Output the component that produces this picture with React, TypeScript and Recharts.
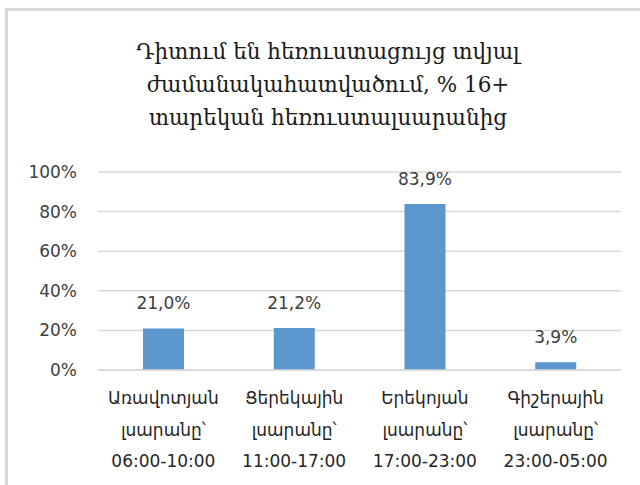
import { BarChart, Bar, XAxis, YAxis, CartesianGrid, LabelList } from "recharts";

const categories = [
  ["Առավոտյան", "լսարանը՝", "06:00-10:00"],
  ["Ցերեկային", "լսարանը՝", "11:00-17:00"],
  ["Երեկոյան", "լսարանը՝", "17:00-23:00"],
  ["Գիշերային", "լսարանը՝", "23:00-05:00"],
];
const values = [21.0, 21.2, 83.9, 3.9];
const yTicks = [0, 20, 40, 60, 80, 100];
const titleLines = [
  "Դիտում են հեռուստացույց տվյալ",
  "ժամանակահատվածում, % 16+",
  "տարեկան հեռուստալսարանից",
];

const data = categories.map((c, i) => ({ name: c.join("|"), value: values[i] }));

const fmt = (v: number) => `${v.toFixed(1).replace(".", ",")}%`;

function CategoryTick(props: any) {
  const { x, y, payload } = props;
  const lines = String(payload.value).split("|");
  return (
    <text
      x={x}
      y={y}
      textAnchor="middle"
      fontFamily="DejaVu Sans"
      fontSize={17}
      fill="#262626"
    >
      {lines.map((l, i) => (
        <tspan key={i} x={x} y={y + 26 + i * 31.5}>
          {l}
        </tspan>
      ))}
    </text>
  );
}

export default function App() {
  return (
    <div
      style={{
        position: "absolute",
        left: 0,
        top: 0,
        width: 640,
        height: 485,
        background: "#fff",
        overflow: "hidden",
      }}
    >
      <div
        style={{
          position: "absolute",
          left: 5,
          top: 8,
          width: 700,
          height: 600,
          borderLeft: "3px solid #d9d9d9",
          borderTop: "3px solid #d9d9d9",
        }}
      />
      <div
        style={{
          position: "absolute",
          left: 0,
          top: 35,
          width: 656,
          textAlign: "center",
          fontFamily: "DejaVu Serif",
          fontSize: 21.5,
          lineHeight: "33px",
          color: "#1a1a1a",
        }}
      >
        {titleLines.map((t, i) => (
          <div key={i}>{t}</div>
        ))}
      </div>
      <div style={{ position: "absolute", left: 0, top: 0 }}>
        <BarChart
          width={640}
          height={485}
          data={data}
          margin={{ top: 172, right: 19, left: 18, bottom: 15 }}
        >
          <CartesianGrid vertical={false} stroke="#d9d9d9" strokeWidth={1.5} />
          <XAxis
            dataKey="name"
            axisLine={{ stroke: "#d9d9d9", strokeWidth: 1.5 }}
            tickLine={false}
            height={100}
            interval={0}
            tick={<CategoryTick />}
          />
          <YAxis
            width={80}
            domain={[0, 100]}
            ticks={yTicks}
            axisLine={false}
            tickLine={false}
            tickMargin={15}
            tickFormatter={(v: number) => `${v}%`}
            tick={{ fontSize: 17, fill: "#404040", fontFamily: "DejaVu Sans" }}
          />
          <Bar dataKey="value" fill="#5b97cd" barSize={41} isAnimationActive={false}>
            <LabelList
              dataKey="value"
              position="top"
              offset={19}
              formatter={(v: any) => fmt(Number(v))}
              style={{ fontSize: 17, fill: "#404040", fontFamily: "DejaVu Sans" }}
            />
          </Bar>
        </BarChart>
      </div>
    </div>
  );
}
